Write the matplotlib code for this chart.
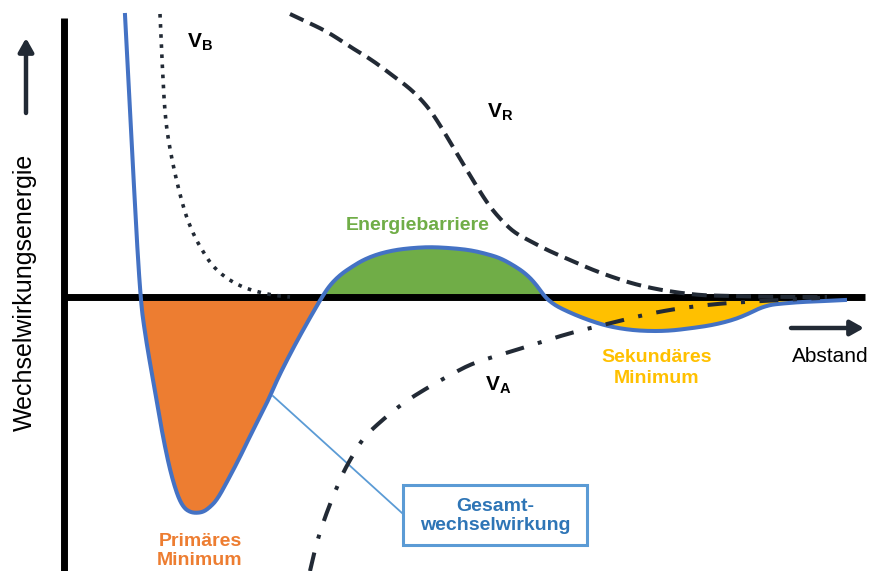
import numpy as np
import matplotlib
matplotlib.use("Agg")
import matplotlib.pyplot as plt
from matplotlib.patches import Rectangle

plt.rcParams['font.family'] = ['Liberation Sans', 'DejaVu Sans']
plt.rcParams['mathtext.fontset'] = 'custom'
plt.rcParams['mathtext.bf'] = 'Liberation Sans:bold'
plt.rcParams['mathtext.rm'] = 'Liberation Sans'

# distance (arbitrary units) and interaction energy (arbitrary units)
total_d = [61, 68, 76, 82, 89, 95, 101, 107, 114, 120, 126, 132, 139, 145, 153, 164, 176,
           189, 203, 213, 223, 233, 243, 251, 258, 266, 276, 286, 299, 314, 331, 348, 366,
           386, 406, 423, 436, 449, 461, 471, 481, 488, 496, 516, 539, 559, 579, 604, 629,
           649, 669, 684, 696, 706, 713, 736, 761, 781]
total_e = [282, 147, 0, -43, -83, -118, -150, -177, -200, -211, -215, -216, -215, -211, -203,
           -183, -160, -133, -106, -83, -63, -44, -26, -12, 0, 12, 22, 29, 37, 43, 47, 49, 50,
           49, 47, 43, 39, 32, 24, 14, 0, -6, -11, -20, -28, -32, -34, -34, -31, -28, -23,
           -17, -11, -8, -7, -5, -4, -3]

vb_d = [96, 98, 101, 106, 113, 121, 128, 136, 151, 176, 206, 226]
vb_e = [283, 237, 180, 147, 114, 84, 66, 50, 27, 10, 2, 0]

vr_d = [226, 241, 264, 288, 308, 328, 348, 364, 376, 389, 401, 413, 426, 439, 451, 466,
        483, 506, 536, 579, 629, 666, 716, 763]
vr_e = [283, 276, 265, 249, 237, 222, 207, 190, 172, 150, 130, 110, 90, 75, 64, 56,
        47, 37, 24, 10, 2, 1, 0, 0]

va_d = [246, 252, 259, 266, 273, 279, 286, 299, 316, 339, 363, 386, 409, 436, 471, 506,
        543, 596, 649, 696, 756]
va_e = [-274, -248, -226, -207, -190, -176, -163, -141, -125, -106, -91, -78, -66, -58,
        -47, -36, -27, -14, -7, -4, -1]

# where the total curve changes sign
primary_range = (76, 258)
barrier_range = (258, 481)
secondary_range = (481, 781)

navy = '#222a35'
blue = '#4472c4'


def smooth(x, y, n=12):
    # draw the polyline as quadratic bezier pieces between midpoints (rendering only)
    x = np.asarray(x, float)
    y = np.asarray(y, float)
    mx = np.r_[x[0], (x[:-1] + x[1:]) / 2, x[-1]]
    my = np.r_[y[0], (y[:-1] + y[1:]) / 2, y[-1]]
    t = np.linspace(0, 1, n, endpoint=False)[:, None]
    xs, ys = [], []
    for i in range(len(x)):
        p0 = np.array([mx[i], my[i]])
        p1 = np.array([x[i], y[i]])
        p2 = np.array([mx[i + 1], my[i + 1]])
        pts = (1 - t) ** 2 * p0 + 2 * (1 - t) * t * p1 + t ** 2 * p2
        xs.append(pts[:, 0])
        ys.append(pts[:, 1])
    xs.append([x[-1]])
    ys.append([y[-1]])
    return np.concatenate(xs), np.concatenate(ys)


fig = plt.figure(figsize=(8.74, 5.71), dpi=100)
ax = fig.add_axes([64 / 874, 0, 801 / 874, 553 / 571])
ax.set_xlim(0, 801)
ax.set_ylim(-274, 279)

d, e = smooth(total_d, total_e)
for rng, col in [(primary_range, '#ed7d31'), (barrier_range, '#70ad47'),
                 (secondary_range, '#ffc000')]:
    ax.fill_between(d, e, 0, where=(d >= rng[0] - 0.5) & (d <= rng[1] + 0.5),
                    color=col, lw=0, zorder=1)

ax.plot(d, e, color=blue, lw=2.9, zorder=3, clip_on=False, solid_joinstyle='round')
ax.plot(*smooth(vb_d, vb_e), color=navy, lw=2.6, ls=(0, (1, 1.8)), dash_capstyle='butt',
        zorder=4, clip_on=False)
ax.plot(*smooth(vr_d, vr_e), color=navy, lw=2.9, ls=(0, (3.7, 1.8)), dash_capstyle='butt',
        zorder=4, clip_on=False)
ax.plot(*smooth(va_d, va_e), color=navy, lw=2.9, ls=(0, (4.7, 3.6, 1, 3.6)),
        dash_capstyle='butt', zorder=4, clip_on=False)

# axes as thick black lines
for s in ['top', 'right']:
    ax.spines[s].set_visible(False)
ax.spines['bottom'].set_position(('data', 0))
for s in ['left', 'bottom']:
    ax.spines[s].set_linewidth(5)
    ax.spines[s].set_color('black')
    ax.spines[s].set_capstyle('butt')
    ax.spines[s].set_zorder(2)
ax.set_xticks([])
ax.set_yticks([])
ax.patch.set_visible(False)

# curve names
ax.text(123, 250, r'$\mathbf{V}_\mathbf{B}$', fontsize=15, ha='left', va='baseline')
ax.text(423, 180, r'$\mathbf{V}_\mathbf{R}$', fontsize=15, ha='left', va='baseline')
ax.text(421, -93, r'$\mathbf{V}_\mathbf{A}$', fontsize=15, ha='left', va='baseline')

ax.text(354, 71, 'Energiebarriere', color='#70ad47', fontsize=14, fontweight='bold',
        ha='center', va='center')
ax.text(136, -254, 'Primäres\nMinimum', color='#ed7d31', fontsize=14, fontweight='bold',
        ha='center', va='center', linespacing=1.2, clip_on=False)
ax.text(593, -71, 'Sekundäres\nMinimum', color='#ffc000', fontsize=14, fontweight='bold',
        ha='center', va='center', linespacing=1.25)

# callout for the total interaction
ax.plot([209, 338], [-99, -216], color='#5b9bd5', lw=1.3, zorder=2)
ax.add_patch(Rectangle((339, -248), 184, 60, fill=True, facecolor='white',
                       edgecolor='#5b9bd5', lw=2.2, zorder=5))
ax.text(431, -219, 'Gesamt-\nwechselwirkung', color='#2e75b6', fontsize=14,
        fontweight='bold', ha='center', va='center', linespacing=1.2, zorder=6)

# axis arrows and labels
ax.annotate('', xy=(-38, 259), xytext=(-38, 184), annotation_clip=False,
            arrowprops=dict(arrowstyle='-|>,head_length=0.8,head_width=0.45',
                            color=navy, lw=3.2, shrinkA=0, shrinkB=0))
ax.annotate('', xy=(800, -31), xytext=(727, -31), annotation_clip=False,
            arrowprops=dict(arrowstyle='-|>,head_length=0.8,head_width=0.45',
                            color=navy, lw=3.2, shrinkA=0, shrinkB=0))
ax.text(766, -59, 'Abstand', fontsize=15, ha='center', va='center', clip_on=False)
fig.text(25 / 874, 1 - 292 / 571, 'Wechselwirkungsenergie', fontsize=18,
         rotation=90, ha='center', va='center')

fig.savefig('out.png', dpi=100)
